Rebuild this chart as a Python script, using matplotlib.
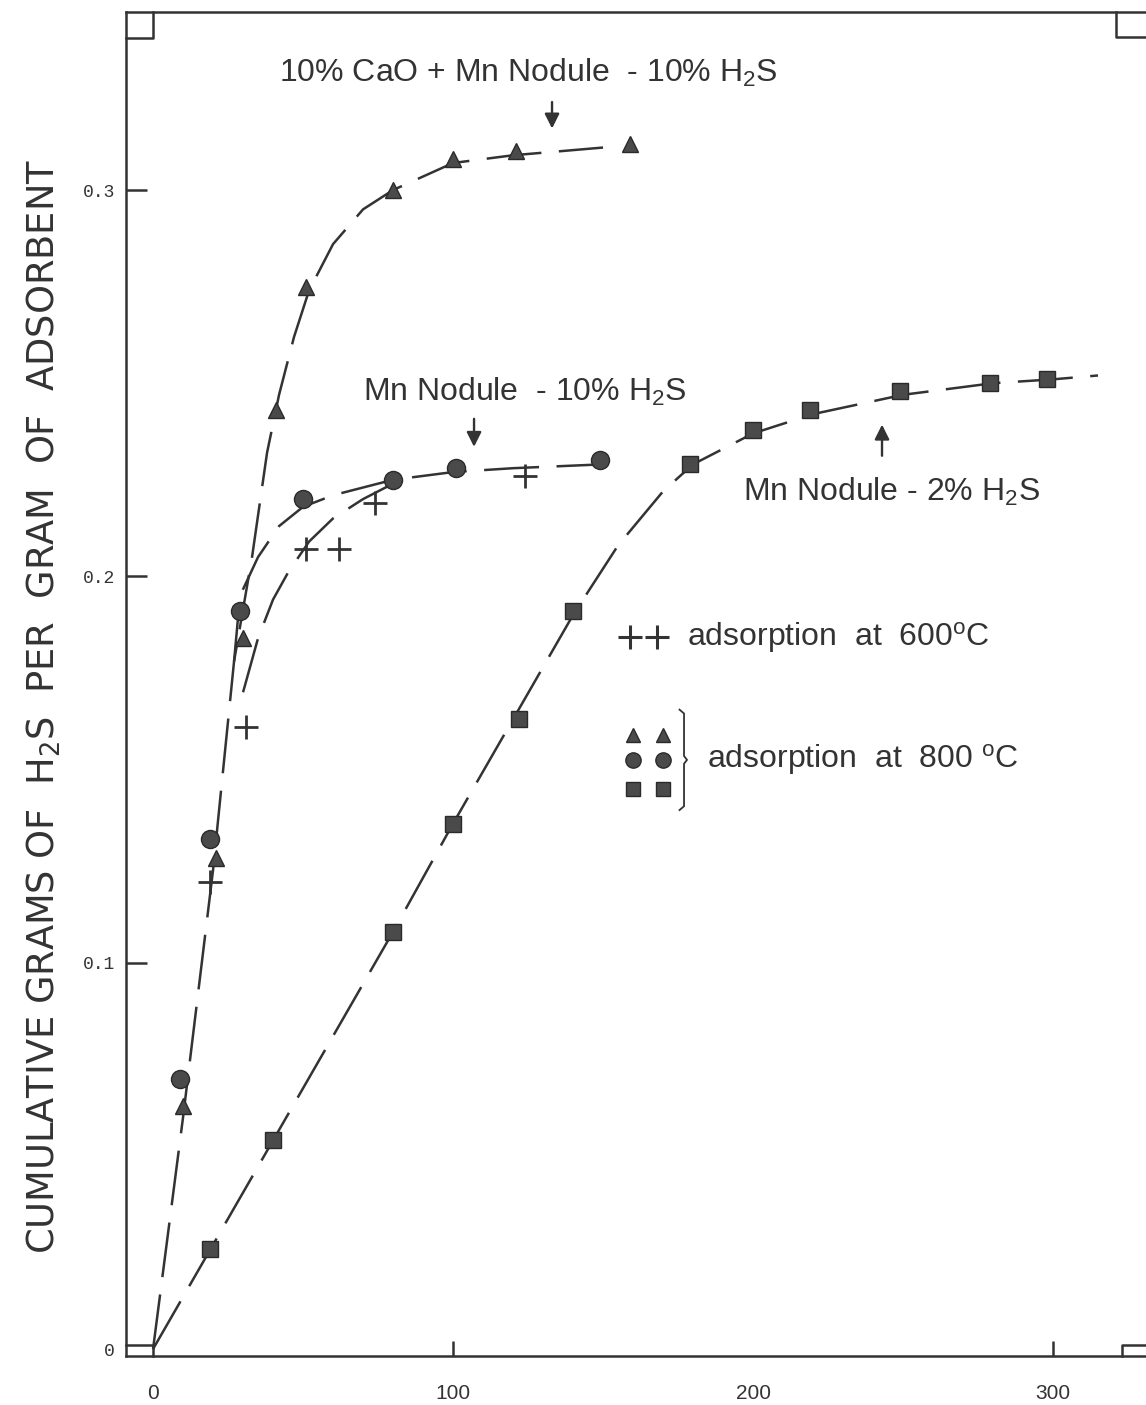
import matplotlib
matplotlib.use("Agg")
import matplotlib.pyplot as plt

# measured points (time, cumulative g H2S / g adsorbent)
tri_x = [10, 21, 30, 41, 51, 80, 100, 121, 159]
tri_y = [0.063, 0.127, 0.184, 0.243, 0.275, 0.300, 0.308, 0.310, 0.312]

circ_x = [9, 19, 29, 50, 80, 101, 149]
circ_y = [0.070, 0.132, 0.191, 0.220, 0.225, 0.228, 0.230]

plus_x = [19, 31, 51, 62, 74, 124]
plus_y = [0.121, 0.161, 0.207, 0.207, 0.219, 0.226]

sq_x = [19, 40, 80, 100, 122, 140, 179, 200, 219, 249, 279, 298]
sq_y = [0.026, 0.054, 0.108, 0.136, 0.163, 0.191, 0.229, 0.238, 0.243, 0.248, 0.250, 0.251]

# hand drawn fit curves
tri_fit_x = [0, 10, 20, 27, 33, 38, 42, 47, 52, 60, 70, 80, 100, 120, 150]
tri_fit_y = [0, 0.06, 0.124, 0.178, 0.205, 0.232, 0.247, 0.262, 0.274, 0.286, 0.295, 0.300, 0.307, 0.309, 0.311]

circ_fit_x = [27, 29, 35, 42, 50, 60, 70, 80, 100, 120, 150]
circ_fit_y = [0.178, 0.195, 0.205, 0.213, 0.218, 0.221, 0.223, 0.225, 0.227, 0.228, 0.229]

plus_fit_x = [30, 35, 40, 45, 52, 60, 70, 80]
plus_fit_y = [0.170, 0.184, 0.194, 0.201, 0.209, 0.215, 0.220, 0.224]

sq_fit_x = [0, 20, 40, 60, 80, 100, 120, 140, 155, 170, 180, 200, 220, 250, 280, 300, 315]
sq_fit_y = [0, 0.027, 0.054, 0.081, 0.108, 0.136, 0.163, 0.190, 0.208, 0.222, 0.229, 0.237, 0.242, 0.247, 0.250, 0.251, 0.252]

x_ticks = [0, 100, 200, 300]
y_ticks = [0, 0.1, 0.2, 0.3]
y_tick_labels = ["0", "0.1", "0.2", "0.3"]

ink = "#333333"
mark = "#4a4a4a"

plt.rcParams["font.family"] = ["Liberation Sans", "DejaVu Sans"]
plt.rcParams["mathtext.default"] = "regular"

fig = plt.figure(figsize=(11.46, 14.05), dpi=100)
ax = fig.add_axes([0.110, 0.0349, 0.890, 0.9566])
ax.set_xlim(-9, 331)
ax.set_ylim(-0.0018, 0.3461)

# fitted curves
dash = (0, (22, 7))
for fx, fy in [(tri_fit_x, tri_fit_y), (circ_fit_x, circ_fit_y),
               (plus_fit_x, plus_fit_y), (sq_fit_x, sq_fit_y)]:
    ax.plot(fx, fy, color=ink, lw=1.8, linestyle=dash)

# data points
ax.plot(tri_x, tri_y, "^", ms=12, color=mark, mec="#2a2a2a")
ax.plot(circ_x, circ_y, "o", ms=13, color=mark, mec="#2a2a2a")
ax.plot(sq_x, sq_y, "s", ms=11, color=mark, mec="#2a2a2a")
ax.plot(plus_x, plus_y, "+", ms=17, mew=2.0, color=ink)

# annotations
txt = dict(color=ink, fontsize=23)
ax.text(125, 0.3302, r"10% CaO + Mn Nodule  - 10% H$_2$S", ha="center", va="center", **txt)
ax.annotate("", xy=(133, 0.3152), xytext=(133, 0.3235),
            arrowprops=dict(arrowstyle="-|>", color=ink, lw=1.7, mutation_scale=22))
ax.text(124, 0.2478, r"Mn Nodule  - 10% H$_2$S", ha="center", va="center", **txt)
ax.annotate("", xy=(107, 0.2328), xytext=(107, 0.2415),
            arrowprops=dict(arrowstyle="-|>", color=ink, lw=1.7, mutation_scale=22))
ax.text(246, 0.2218, r"Mn Nodule - 2% H$_2$S", ha="center", va="center", **txt)
ax.annotate("", xy=(243, 0.2400), xytext=(243, 0.2305),
            arrowprops=dict(arrowstyle="-|>", color=ink, lw=1.7, mutation_scale=22))

# legend block
ax.plot([159, 168], [0.1843, 0.1843], "+", ms=17, mew=2.2, color=ink)
ax.text(178, 0.1843, r"adsorption  at  600$^o$C", ha="left", va="center", **txt)
ax.plot([160, 170], [0.159, 0.159], "^", ms=10, color=mark, mec="#2a2a2a")
ax.plot([160, 170], [0.1525, 0.1525], "o", ms=11, color=mark, mec="#2a2a2a")
ax.plot([160, 170], [0.145, 0.145], "s", ms=10, color=mark, mec="#2a2a2a")
ax.plot([175.5, 177, 177, 178, 177, 177, 175.5],
        [0.1655, 0.1645, 0.1535, 0.1525, 0.1515, 0.1405, 0.1395], color=ink, lw=1.3)
ax.text(184.7, 0.1525, r"adsorption  at  800 $^o$C", ha="left", va="center", **txt)

# axes frame
for side in ["left", "top", "bottom"]:
    ax.spines[side].set_linewidth(1.8)
    ax.spines[side].set_color(ink)
ax.spines["right"].set_visible(False)

ax.set_xticks(x_ticks)
ax.set_xticklabels([str(v) for v in x_ticks], fontsize=15, color=ink)
ax.set_yticks(y_ticks)
ax.set_yticklabels(y_tick_labels, fontsize=13, color=ink,
                   family=["Liberation Mono", "DejaVu Sans Mono"])
ax.tick_params(axis="y", direction="in", length=15, width=1.8, color=ink, pad=8)
ax.tick_params(axis="x", direction="in", length=11, width=1.8, color=ink, pad=20)
xt = ax.xaxis.get_major_ticks()
xt[0].tick1line.set_visible(False)
xt[2].tick1line.set_visible(False)
ax.yaxis.get_major_ticks()[0].tick1line.set_visible(False)

# corner squares of the printed frame
corner = dict(color=ink, lw=1.8, transform=ax.transAxes, clip_on=False)
ax.plot([0, 0.0265, 0.0265], [0.9805, 0.9805, 1.0], **corner)
ax.plot([0.9705, 0.9705, 1.0], [1.0, 0.981, 0.981], **corner)
ax.plot([0, 0.0265, 0.0265], [0.0085, 0.0085, 0.0], **corner)
ax.plot([0.976, 0.976, 1.0], [0.0, 0.0085, 0.0085], **corner)

ax.set_ylabel(r"CUMULATIVE GRAMS OF  H$_2$S  PER  GRAM  OF  ADSORBENT",
              fontsize=26.5, color=ink, labelpad=8, family="DejaVu Sans")
ax.yaxis.set_label_coords(-0.062, 0.483)

fig.savefig("out.png", dpi=100, facecolor="white")
